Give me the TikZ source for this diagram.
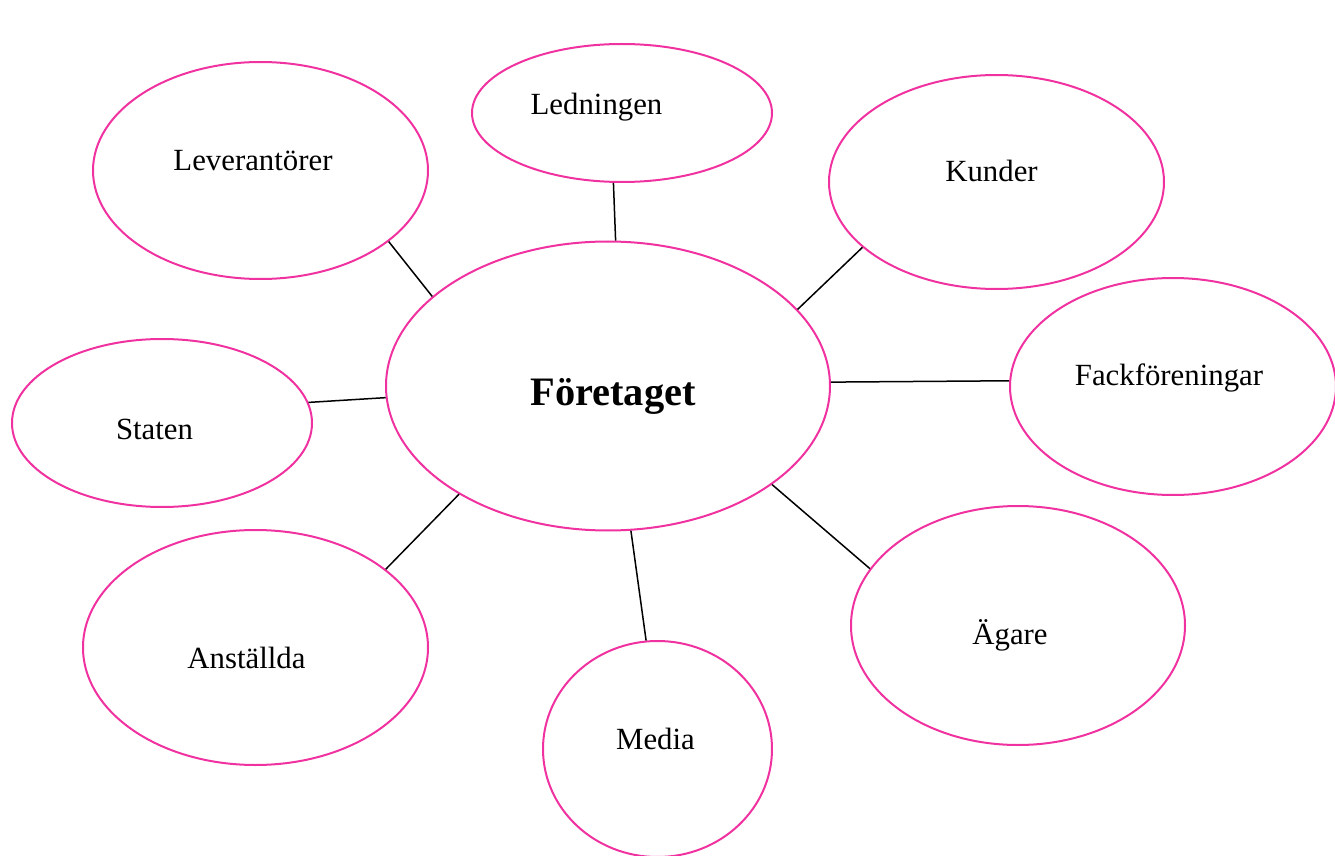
\documentclass[tikz,border=0pt]{standalone}
\usepackage{fontspec}
\setmainfont{Liberation Serif}
\usetikzlibrary{shapes.geometric}
\definecolor{bubblepink}{RGB}{240,50,160}

\begin{document}
\begin{tikzpicture}
          [ x=0.5pt,
            y=-0.5pt,
            bubble/.style={
              ellipse,
              draw=bubblepink,
              line width=1pt,
              inner sep=0pt},
            word/.style={
              anchor=base,
              inner sep=0pt,
              font=\fontsize{15.4}{18}\selectfont},
            line/.style={
              draw,
              line width=0.75pt,
            },
          ]

          \useasboundingbox (0,0) rectangle (1335,856);

          \node (foretaget) [bubble, minimum width=222pt, minimum height=144.5pt] at (608,386) {};
          \node (ledningen) [bubble, minimum width=150pt, minimum height=69pt] at (622,113) {};
          \node (leverantorer) [bubble, minimum width=167.5pt, minimum height=108.5pt] at (260.5,170.5) {};
          \node (kunder) [bubble, minimum width=167.5pt, minimum height=107pt] at (996.5,182) {};
          \node (fack) [bubble, minimum width=163pt, minimum height=108.5pt] at (1173,386.5) {};
          \node (staten) [bubble, minimum width=150pt, minimum height=84pt] at (162,423) {};
          \node (anstallda) [bubble, minimum width=172.5pt, minimum height=117.5pt] at (255.5,647.5) {};
          \node (media) [bubble, minimum width=114.5pt, minimum height=108pt] at (657.5,749) {};
          \node (agare) [bubble, minimum width=167pt, minimum height=119.5pt] at (1018,625.5) {};

          \node (foretaget-txt) [word, font=\fontsize{20.2}{24}\selectfont\bfseries] at (613,405.5) {Företaget};
          \node (ledningen-txt) [word] at (596.5,115) {Ledningen};
          \node (leverantorer-txt) [word] at (253,170) {Leverantörer};
          \node (kunder-txt) [word] at (991.5,182) {Kunder};
          \node (fack-txt) [word] at (1169,386) {Fackföreningar};
          \node (staten-txt) [word] at (154.5,439) {Staten};
          \node (anstallda-txt) [word] at (246.5,668) {Anställda};
          \node (media-txt) [word] at (655.5,749) {Media};
          \node (agare-txt) [word] at (1010,644) {Ägare};

          \draw[line] (leverantorer.-29) -- (foretaget.153);
          \draw[line] (ledningen.-97) -- (foretaget.87);
          \draw[line] (kunder.-154) -- (foretaget.22);
          \draw[line] (fack.178) -- (foretaget.1);
          \draw[line] (staten.8) -- (foretaget.183);
          \draw[line] (anstallda.31) -- (foretaget.216);
          \draw[line] (media.96) -- (foretaget.-81);
          \draw[line] (agare.159) -- (foretaget.-31);

        \end{tikzpicture}
\end{document}
